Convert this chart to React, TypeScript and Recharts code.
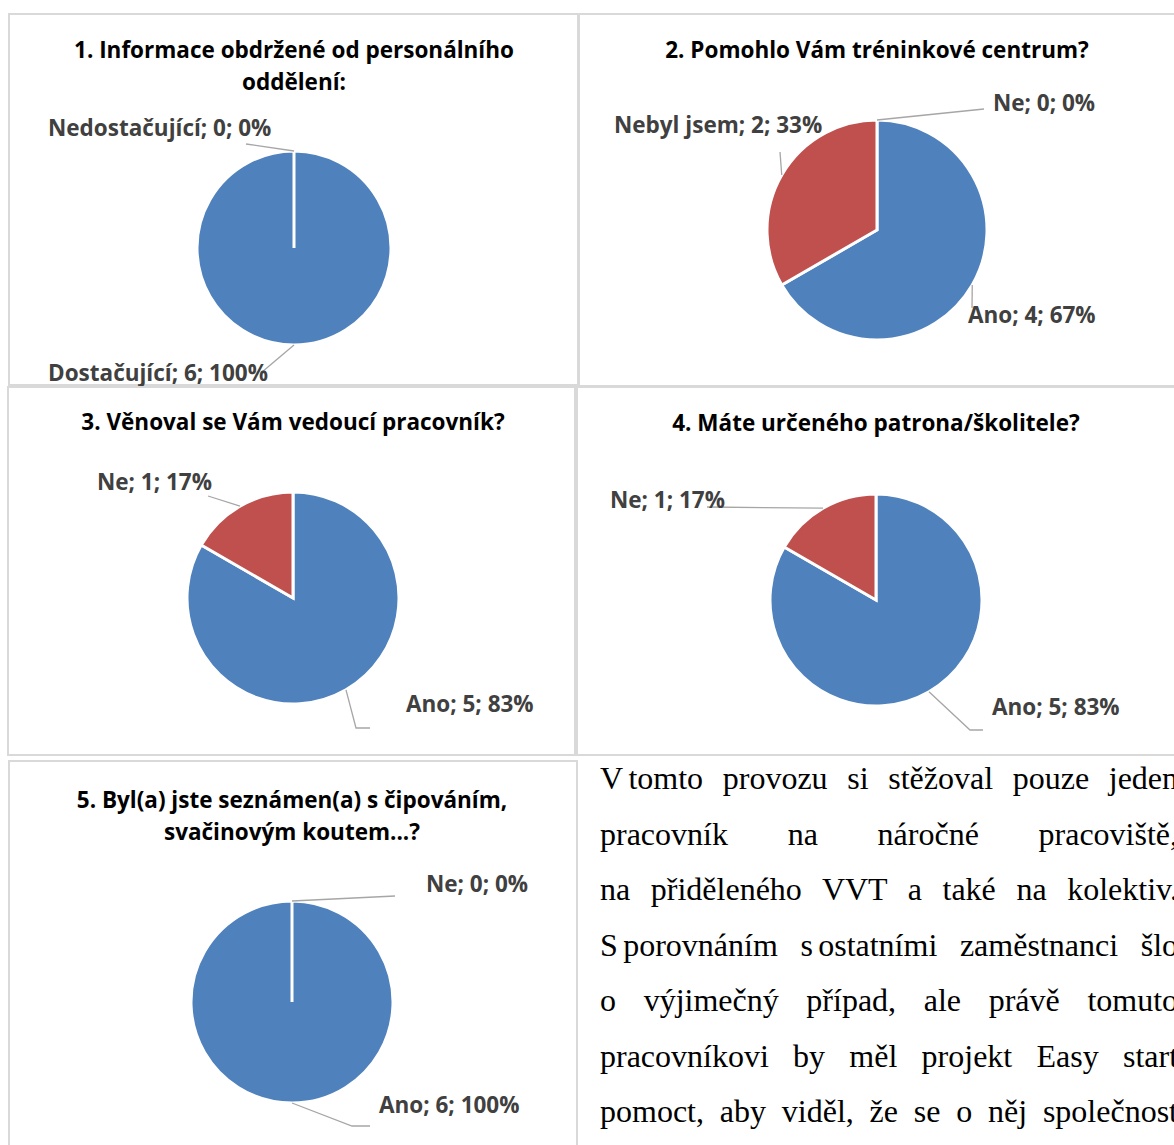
import React from "react";
import { PieChart, Pie, Cell } from "recharts";

const BLUE = "#4F81BD";
const RED = "#C0504D";
const GREEN = "#9BBB59";

// 1. Informace obdržené od personálního oddělení
const q1Title = ["1. Informace obdržené od personálního", "oddělení:"];
const q1Answers = ["Dostačující", "Nedostačující"];
const q1Counts = [6, 0];
const q1Colors = [BLUE, RED];

// 2. Pomohlo Vám tréninkové centrum?
const q2Title = ["2. Pomohlo Vám tréninkové centrum?"];
const q2Answers = ["Ano", "Nebyl jsem", "Ne"];
const q2Counts = [4, 2, 0];
const q2Colors = [BLUE, RED, GREEN];

// 3. Věnoval se Vám vedoucí pracovník?
const q3Title = ["3. Věnoval se Vám vedoucí pracovník?"];
const q3Answers = ["Ano", "Ne"];
const q3Counts = [5, 1];
const q3Colors = [BLUE, RED];

// 4. Máte určeného patrona/školitele?
const q4Title = ["4. Máte určeného patrona/školitele?"];
const q4Answers = ["Ano", "Ne"];
const q4Counts = [5, 1];
const q4Colors = [BLUE, RED];

// 5. Byl(a) jste seznámen(a) s čipováním...
const q5Title = ["5. Byl(a) jste seznámen(a) s čipováním,", "svačinovým koutem...?"];
const q5Answers = ["Ano", "Ne"];
const q5Counts = [6, 0];
const q5Colors = [BLUE, RED];

// body text next to the last chart; each inner array is one justified line,
// pairs in a nested array are glued by a narrow fixed space
const paragraphLines = [
  [["V", "tomto"], "provozu", "si", "stěžoval", "pouze", "jeden"],
  ["pracovník", "na", "náročné", "pracoviště,"],
  ["na", "přiděleného", "VVT", "a", "také", "na", "kolektiv."],
  [["S", "porovnáním"], ["s", "ostatními"], "zaměstnanci", "šlo"],
  ["o", "výjimečný", "případ,", "ale", "právě", "tomuto"],
  ["pracovníkovi", "by", "měl", "projekt", "Easy", "start"],
  ["pomoct,", "aby", "viděl,", "že", "se", "o", "něj", "společnost"],
];

type Spot = { leader: number[][]; text: number[] };
type Box = { left: number; top: number; width: number; height: number };

const FONT = "'Open Sans', Lato, sans-serif";
const FONT_SIZE = 22.5;

function makeLabel(spots: Spot[]) {
  return (props: any) => {
    const { cx, cy, midAngle, outerRadius, index, name, value, percent } = props;
    const spot = spots[index];
    if (!spot) return null;
    const rad = Math.PI / 180;
    const sx = cx + outerRadius * Math.cos(-midAngle * rad);
    const sy = cy + outerRadius * Math.sin(-midAngle * rad);
    const pts = [[sx, sy], ...spot.leader.map(([dx, dy]) => [cx + dx, cy + dy])];
    return (
      <g key={`lbl-${index}`}>
        <polyline
          points={pts.map((p) => p.join(",")).join(" ")}
          fill="none"
          stroke="#A6A6A6"
          strokeWidth={1.3}
        />
        <text
          x={cx + spot.text[0]}
          y={cy + spot.text[1]}
          dominantBaseline="central"
          textAnchor="start"
          fill="#404040"
          fontFamily={FONT}
          fontWeight={700}
          fontSize={FONT_SIZE}
        >
          {`${name}; ${value}; ${Math.round((percent ?? 0) * 100)}%`}
        </text>
      </g>
    );
  };
}

function QuestionPie({
  box,
  center,
  radius,
  title,
  titleY,
  answers,
  counts,
  colors,
  spots,
}: {
  box: Box;
  center: number[];
  radius: number;
  title: string[];
  titleY: number;
  answers: string[];
  counts: number[];
  colors: string[];
  spots: Spot[];
}) {
  const data = answers.map((name, i) => ({ name, value: counts[i] }));
  const cx = center[0] - box.left;
  const cy = center[1] - box.top;
  return (
    <div
      style={{
        position: "absolute",
        left: box.left,
        top: box.top,
        width: box.width,
        height: box.height,
        border: "2px solid #D9D9D9",
        boxSizing: "border-box",
      }}
    >
      <div style={{ position: "absolute", left: -2, top: -2 }}>
        <PieChart
          width={box.width}
          height={box.height}
          margin={{ top: 0, right: 0, bottom: 0, left: 0 }}
          style={{ overflow: "visible" }}
        >
          <Pie
            data={data}
            dataKey="value"
            nameKey="name"
            cx={cx}
            cy={cy}
            outerRadius={radius}
            startAngle={90}
            endAngle={-270}
            stroke="#FFFFFF"
            strokeWidth={3}
            label={makeLabel(spots)}
            labelLine={false}
            isAnimationActive={false}
          >
            {data.map((d, i) => (
              <Cell key={d.name} fill={colors[i]} />
            ))}
          </Pie>
        </PieChart>
      </div>
      <div
        style={{
          position: "absolute",
          left: cx - 300 - 2,
          top: titleY - box.top - 2,
          width: 600,
          textAlign: "center",
          fontFamily: FONT,
          fontWeight: 700,
          fontSize: FONT_SIZE,
          lineHeight: "32px",
          color: "#000",
        }}
      >
        {title.map((t) => (
          <div key={t}>{t}</div>
        ))}
      </div>
    </div>
  );
}

export default function App() {
  return (
    <div
      style={{
        position: "absolute",
        left: 0,
        top: 0,
        width: 1174,
        height: 1145,
        overflow: "hidden",
        background: "#fff",
      }}
    >
      <QuestionPie
        box={{ left: 8, top: 13, width: 571, height: 373 }}
        center={[294, 248]}
        radius={97}
        title={q1Title}
        titleY={34}
        answers={q1Answers}
        counts={q1Counts}
        colors={q1Colors}
        spots={[
          { leader: [[-32, 124]], text: [-246, 124] },
          { leader: [[-48, -104]], text: [-246, -121] },
        ]}
      />
      <QuestionPie
        box={{ left: 578, top: 13, width: 620, height: 374 }}
        center={[877, 230]}
        radius={110}
        title={q2Title}
        titleY={34}
        answers={q2Answers}
        counts={q2Counts}
        colors={q2Colors}
        spots={[
          { leader: [[95, 78]], text: [91, 84] },
          { leader: [[-97, -78]], text: [-263, -106] },
          { leader: [[107, -121]], text: [116, -128] },
        ]}
      />
      <QuestionPie
        box={{ left: 7, top: 386, width: 569, height: 370 }}
        center={[293, 598]}
        radius={106}
        title={q3Title}
        titleY={406}
        answers={q3Answers}
        counts={q3Counts}
        colors={q3Colors}
        spots={[
          { leader: [[63, 130], [77, 130]], text: [113, 105] },
          { leader: [[-85, -102]], text: [-196, -117] },
        ]}
      />
      <QuestionPie
        box={{ left: 576, top: 386, width: 620, height: 370 }}
        center={[876, 600]}
        radius={106}
        title={q4Title}
        titleY={407}
        answers={q4Answers}
        counts={q4Counts}
        colors={q4Colors}
        spots={[
          { leader: [[94, 130], [107, 130]], text: [116, 106] },
          { leader: [[-169, -93]], text: [-266, -101] },
        ]}
      />
      <QuestionPie
        box={{ left: 8, top: 760, width: 570, height: 420 }}
        center={[292, 1002]}
        radius={101}
        title={q5Title}
        titleY={784}
        answers={q5Answers}
        counts={q5Counts}
        colors={q5Colors}
        spots={[
          { leader: [[60, 124], [78, 124]], text: [87, 102] },
          { leader: [[103, -106]], text: [134, -119] },
        ]}
      />
      <div
        style={{
          position: "absolute",
          left: 600,
          top: 751,
          width: 578,
          fontFamily: "'Liberation Serif', 'Times New Roman', serif",
          fontSize: 32,
          lineHeight: "55.5px",
          color: "#000",
        }}
      >
        {paragraphLines.map((line, li) => (
          <div key={li} style={{ textAlign: "justify", textAlignLast: "justify" }}>
            {line.map((w, wi) => (
              <React.Fragment key={wi}>
                {wi > 0 ? " " : null}
                {Array.isArray(w) ? (
                  <span style={{ display: "inline-block" }}>{w.join("\u2006")}</span>
                ) : (
                  w
                )}
              </React.Fragment>
            ))}
          </div>
        ))}
      </div>
    </div>
  );
}
